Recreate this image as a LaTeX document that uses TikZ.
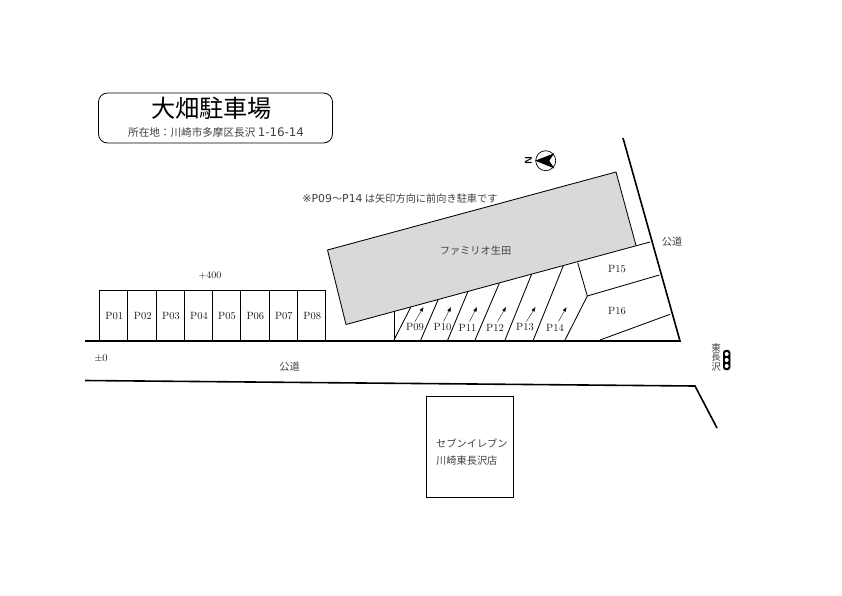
\documentclass[tikz,border=0pt]{standalone}
\usepackage{fontspec}
\newfontfamily\jp{Noto Sans CJK JP}
\newfontfamily\lat{DejaVu Sans}
\usetikzlibrary{arrows.meta}
\definecolor{bldg}{gray}{0.85}
\definecolor{jptext}{gray}{0.25}
\newcommand{\jpsize}[1]{\fontsize{#1}{#1}\selectfont\jp}
\newcommand{\latpart}[2][10.9]{{\fontsize{#1}{#1}\selectfont\lat #2}}
\tikzset{
  x=1pt,y=-1pt,
  road/.style={line width=1.6pt,black},
  thin line/.style={line width=0.85pt,black},
  baylabel/.style={inner sep=0pt,font=\fontsize{10.5}{10.5}\selectfont,text=black!90},
  jplabel/.style={inner sep=0pt,text=jptext,font=\jpsize{10.2}},
  dirarrow/.style={line width=0.35pt,-{Latex[length=4.5pt,width=3.5pt]}},
}
\begin{document}
\begin{tikzpicture}
\useasboundingbox (0,0) rectangle (842,595);
% title
\node[draw=black,line width=0.8pt,rounded corners=9pt,minimum width=234pt,minimum height=50pt,inner sep=0pt] (titlebox) at (215.5,118) {};
\node[inner sep=0pt,text=black,font=\jpsize{24.2}] (title) at (211.5,108.5) {大畑駐車場};
\node[jplabel,font=\jpsize{10.6}] (addr) at (216,132.7) {所在地：川崎市多摩区長沢 \latpart[11.8]{1-16-14}};
% building
\fill[bldg] (327.5,250) -- (616,172) -- (636,245.5) -- (346,324.5) -- cycle;
\draw[thin line] (636,245.5) -- (616,172) -- (327.5,250) -- (346,324.5);
\draw[thin line] (346,324.5) -- (650,242);
\node[jplabel] (bname) at (475.5,251) {ファミリオ生田};
\node[jplabel] (note) at (400,199) {\latpart{※P09}〜\latpart{P14} は矢印方向に前向き駐車です};
% compass
\node[draw=black,circle,line width=0.7pt,minimum size=20pt,inner sep=0pt] (compass) at (545.7,160.7) {};
\fill (535,160.7) -- (554.3,153.3) -- (549.3,160.7) -- (554.3,168.3) -- cycle;
\node[inner sep=0pt,rotate=90,font=\sffamily\bfseries\fontsize{10}{10}\selectfont] (north) at (528.3,160.7) {N};
% roads
\coordinate (r1a) at (623,138); \coordinate (r1b) at (680,341);
\coordinate (r2a) at (85,341);
\coordinate (r3a) at (85,380.5); \coordinate (r3b) at (695,386); \coordinate (r3c) at (717,428);
\draw[road] (r1a) -- (r1b) -- (r2a);
\draw[road] (r3a) -- (r3b) -- (r3c);
% straight bays
\foreach \i/\xa/\xb/\lab in {1/99.3/127.7/P01,2/127.7/156.3/P02,3/156.3/184.3/P03,4/184.3/212.3/P04,5/212.3/240.3/P05,6/240.3/269/P06,7/269/297.3/P07,8/297.3/325.7/P08}{
  \draw[thin line] (\xa,340) -- (\xa,290) -- (\xb,290) -- (\xb,340);
  \node[baylabel] (p\i) at ({(\xa+\xb)/2+0.7},316.3) {\lab};
}
% slanted bays
\draw[thin line] (394,340) -- (394,312);
\draw[thin line] (394,340) -- (410.7,307.3);
\draw[thin line] (420.7,340) -- (438.3,299.3);
\draw[thin line] (447.7,340) -- (467.7,292);
\draw[thin line] (475,340) -- (499.3,283.3);
\draw[thin line] (505,340) -- (531.7,274);
\draw[thin line] (533.3,340) -- (563.3,265.7);
\draw[thin line] (565,340) -- (587.3,296) -- (577.7,262.7);
\draw[thin line] (587.3,296) -- (659.3,275);
\draw[thin line] (600,340) -- (670,314.3);
\foreach \lab/\x in {P09/415,P10/442.5,P11/467.5,P12/495,P13/525,P14/555}{
  \node[baylabel] (\lab) at (\x,327.5) {\lab};
}
\node[baylabel] (P15) at (617,269) {P15};
\node[baylabel] (P16) at (617,311) {P16};
\foreach \a/\b in {415/423.5,443.5/451,469.5/477,497.5/506,526.5/535.5,558.5/566.5}{
  \draw[dirarrow] (\a,321.5) -- (\b,307);
}
% levels and roads labels
\node[baylabel,font=\fontsize{10}{10}\selectfont] (plus) at (210,275.5) {+400};
\node[baylabel,font=\fontsize{10.5}{10.5}\selectfont] (zero) at (101,358) {±0};
\node[jplabel] (koudou1) at (289.5,367) {公道};
\node[jplabel] (koudou2) at (672,242) {公道};
% convenience store
\node[draw=black,line width=0.8pt,minimum width=87.5pt,minimum height=101pt,inner sep=0pt] (store) at (469.7,446.5) {};
\node[jplabel,anchor=west] (s1) at (436,443) {セブンイレブン};
\node[jplabel,anchor=west] (s2) at (436,461) {川崎東長沢店};
% traffic signal
\node[jplabel,align=center,font=\jpsize{9.5}] (sig) at (716,357) {\baselineskip=9.6pt 東\\長\\沢};
\node[draw=black,fill=black,rounded corners=3pt,minimum width=7pt,minimum height=20pt,inner sep=0pt] (signal) at (726.7,360) {};
\foreach \y in {354,360,366}{\fill[white] (726.7,\y) circle (2pt);}
\end{tikzpicture}
\end{document}
